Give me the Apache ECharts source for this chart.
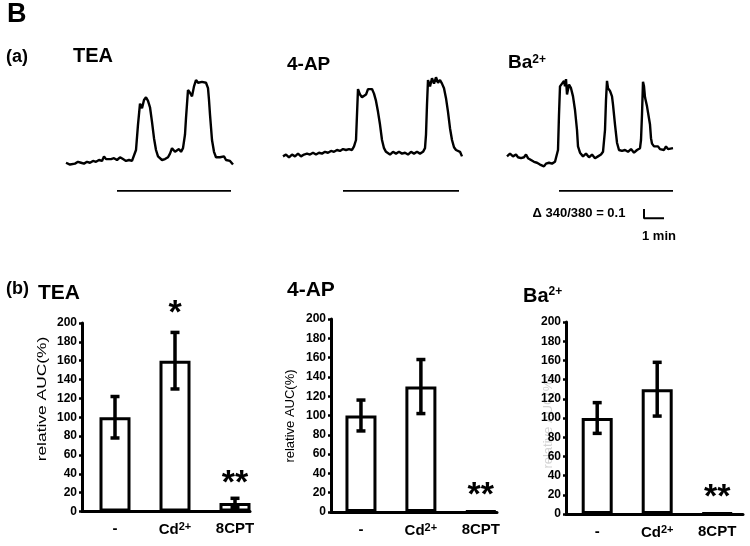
<!DOCTYPE html>
<html>
<head>
<meta charset="utf-8">
<script src="https://cdn.jsdelivr.net/npm/echarts@6.0.0/dist/echarts.min.js"></script>
<style>
html,body{margin:0;padding:0;background:#fff;}
#chart{width:750px;height:546px;}
</style>
</head>
<body>
<div id="chart"></div>
<script>
// ---------- DATA ----------
// (a) Ca2+ traces: [time (s), fura-2 ratio 340/380]
const teaTrace = [[0,0.81],[6,0.80],[12,0.79],[18,0.81],[27,0.80],[36,0.82],[45,0.81],[54,0.80],[63,0.82],[72,0.81],[81,0.83],[90,0.82],[99,0.84],[108,0.83],[114,0.88],[120,0.85],[126,0.87],[135,0.85],[144,0.86],[153,0.84],[162,0.87],[171,0.85],[180,0.83],[189,0.84],[198,0.83],[204,0.85],[210,0.95],[216,1.23],[222,1.46],[228,1.41],[234,1.50],[240,1.53],[246,1.49],[252,1.42],[258,1.26],[264,1.08],[270,0.95],[276,0.88],[282,0.86],[288,0.84],[297,0.85],[306,0.87],[312,0.91],[318,0.97],[321,0.99],[327,0.93],[333,0.95],[339,0.96],[345,0.93],[351,0.97],[357,1.12],[360,1.30],[366,1.61],[372,1.58],[378,1.54],[384,1.65],[390,1.72],[396,1.69],[402,1.71],[408,1.70],[414,1.71],[420,1.69],[426,1.63],[429,1.50],[432,1.34],[438,1.06],[444,0.93],[450,0.87],[456,0.85],[462,0.87],[468,0.86],[474,0.88],[480,0.84],[486,0.86],[492,0.83],[498,0.81],[501,0.79]];
const apTrace = [[0,0.88],[9,0.90],[18,0.87],[27,0.90],[36,0.88],[45,0.91],[54,0.88],[63,0.90],[72,0.91],[81,0.90],[90,0.92],[99,0.90],[108,0.92],[117,0.91],[126,0.93],[135,0.92],[144,0.94],[153,0.93],[162,0.95],[171,0.94],[180,0.96],[189,0.95],[198,0.96],[207,0.95],[213,0.99],[219,1.06],[222,1.34],[225,1.62],[231,1.56],[237,1.53],[243,1.54],[249,1.56],[255,1.62],[261,1.63],[267,1.62],[273,1.57],[279,1.49],[285,1.37],[291,1.23],[297,1.06],[303,0.97],[309,0.93],[315,0.91],[321,0.90],[330,0.93],[339,0.91],[348,0.93],[357,0.91],[366,0.92],[375,0.90],[384,0.93],[393,0.91],[402,0.93],[411,0.91],[420,0.93],[426,0.97],[429,1.12],[432,1.45],[435,1.72],[441,1.65],[447,1.74],[453,1.68],[459,1.75],[465,1.69],[471,1.72],[477,1.68],[483,1.63],[489,1.52],[495,1.37],[501,1.19],[507,1.06],[513,0.98],[519,0.95],[525,0.93],[531,0.93],[537,0.88]];
const baTrace = [[0,0.88],[9,0.91],[18,0.88],[27,0.90],[33,0.87],[42,0.86],[51,0.87],[57,0.90],[63,0.86],[72,0.84],[81,0.82],[90,0.81],[99,0.79],[105,0.81],[111,0.77],[117,0.80],[126,0.81],[135,0.80],[144,0.82],[150,0.83],[153,0.95],[156,1.34],[159,1.65],[165,1.68],[171,1.71],[174,1.65],[177,1.73],[180,1.56],[186,1.67],[192,1.63],[198,1.54],[204,1.39],[210,1.17],[213,0.99],[219,0.92],[228,0.88],[237,0.91],[246,0.87],[255,0.90],[264,0.86],[273,0.88],[282,0.90],[288,0.93],[294,1.17],[297,1.50],[300,1.71],[303,1.63],[309,1.60],[315,1.54],[318,1.45],[324,1.23],[330,1.03],[336,0.95],[345,0.94],[354,0.95],[363,0.93],[372,0.96],[381,0.92],[390,0.95],[399,0.97],[402,1.06],[405,1.34],[408,1.70],[411,1.65],[414,1.53],[420,1.43],[423,1.41],[429,1.23],[432,1.08],[435,1.02],[441,0.99],[447,0.97],[453,0.99],[459,0.96],[465,0.98],[471,0.95],[477,0.99],[483,0.96],[489,0.98],[498,0.97]];
// drug application periods (s)
const teaDrug = [153, 495];
const apDrug = [180, 528];
const baDrug = [156, 498];
// scale bar: 1 min, delta ratio 0.1
const scaleStart = [411, 0.2];
const scaleTime = 60;
const scaleRatio = 0.1;

// (b) relative AUC (%)
const categories = ['-', 'Cd2+', '8CPT'];
const teaAUC = [100, 160, 9];
const teaErr = [22, 30, 5];
const teaSig = ['', '*', '**'];
const apAUC = [100, 130, 1];
const apErr = [16, 28, 0];
const apSig = ['', '', '**'];
const baAUC = [100, 130, 1];
const baErr = [16, 28, 0];
const baSig = ['', '', '**'];
const yTicks = {min: 0, max: 200, interval: 20};

// ---------- CHART ----------
const FF = '"Liberation Sans", Arial, sans-serif';
const chart = echarts.init(document.getElementById('chart'), null, {renderer: 'canvas'});

const traceGrids = [
  {left: 66, top: 70, width: 180, height: 160},
  {left: 283, top: 70, width: 180, height: 160},
  {left: 507, top: 70, width: 180, height: 160}
];
const barGrids = [
  {left: 82, top: 323, width: 168, height: 188.5},
  {left: 331, top: 319, width: 166, height: 193},
  {left: 566, top: 322, width: 177, height: 192}
];
const barXRange = [[0.45, 3.25], [0.5, 3.27], [0.48, 3.43]];

const grids = traceGrids.concat(barGrids).map(g => Object.assign({outerBoundsMode: 'none', containLabel: false}, g));

const xAxes = [], yAxes = [];
for (let i = 0; i < 3; i++) {
  xAxes.push({gridIndex: i, type: 'value', min: 0, max: 540, show: false});
  yAxes.push({gridIndex: i, type: 'value', min: 0.07, max: 1.83, show: false});
}
for (let k = 0; k < 3; k++) {
  xAxes.push({
    gridIndex: 3 + k, type: 'value', min: barXRange[k][0], max: barXRange[k][1],
    axisLine: {show: true, onZero: false, lineStyle: {color: '#000', width: 3}},
    axisTick: {show: false},
    splitLine: {show: false},
    axisLabel: {
      customValues: [1, 2, 3],
      formatter: v => {
        const s = categories[Math.round(v) - 1] || '';
        return s.replace('2+', '{sup|2+}');
      },
      margin: 10, color: '#000', fontWeight: 'bold', fontSize: 15, fontFamily: FF,
      rich: {sup: {fontSize: 11, fontWeight: 'bold', color: '#000', fontFamily: FF, verticalAlign: 'top', padding: [0, 0, 6, 0]}}
    }
  });
  yAxes.push({
    gridIndex: 3 + k, type: 'value', min: yTicks.min, max: yTicks.max, interval: yTicks.interval,
    axisLine: {show: true, onZero: false, lineStyle: {color: '#000', width: 3}},
    axisTick: {show: true, length: 3, lineStyle: {color: '#000', width: 2.5}},
    splitLine: {show: false},
    axisLabel: {color: '#000', fontWeight: 'bold', fontSize: 12, fontFamily: FF, margin: 5}
  });
}

const series = [];
const traces = [teaTrace, apTrace, baTrace];
const drugs = [teaDrug, apDrug, baDrug];
const DRUG_LEVEL = 0.5;
traces.forEach((tr, i) => {
  series.push({type: 'line', xAxisIndex: i, yAxisIndex: i, data: tr, symbol: 'none', silent: true,
    lineStyle: {color: '#000', width: 2.4}, z: 3});
  series.push({type: 'line', xAxisIndex: i, yAxisIndex: i, symbol: 'none', silent: true,
    data: [[drugs[i][0], DRUG_LEVEL], [drugs[i][1], DRUG_LEVEL]],
    lineStyle: {color: '#000', width: 1.6}});
});
series.push({type: 'line', xAxisIndex: 2, yAxisIndex: 2, symbol: 'none', silent: true,
  data: [[scaleStart[0], scaleStart[1] + scaleRatio], [scaleStart[0], scaleStart[1]], [scaleStart[0] + scaleTime, scaleStart[1]]],
  lineStyle: {color: '#000', width: 2}});

const aucs = [teaAUC, apAUC, baAUC];
const errs = [teaErr, apErr, baErr];
const sigs = [teaSig, apSig, baSig];
aucs.forEach((vals, k) => {
  series.push({type: 'bar', xAxisIndex: 3 + k, yAxisIndex: 3 + k, barWidth: 31, silent: true,
    data: vals.map((v, i) => [i + 1, v]),
    itemStyle: {color: '#fff', borderColor: '#000', borderWidth: 3}});
  series.push({type: 'custom', xAxisIndex: 3 + k, yAxisIndex: 3 + k, clip: false, silent: true, z: 5,
    encode: {x: 0, y: 1},
    data: vals.map((v, i) => [i + 1, v, errs[k][i]]),
    renderItem: (params, api) => {
      const x = api.value(0), v = api.value(1), e = api.value(2);
      const children = [];
      const top = api.coord([x, v + e]);
      const bot = api.coord([x, v - e]);
      const st = {stroke: '#000', lineWidth: 3.5};
      if (e > 0) {
        children.push({type: 'line', shape: {x1: top[0], y1: top[1], x2: bot[0], y2: bot[1]}, style: st});
        children.push({type: 'line', shape: {x1: top[0] - 4.5, y1: top[1], x2: top[0] + 4.5, y2: top[1]}, style: st});
        children.push({type: 'line', shape: {x1: bot[0] - 4.5, y1: bot[1], x2: bot[0] + 4.5, y2: bot[1]}, style: st});
      }
      const s = sigs[k][params.dataIndex];
      if (s) {
        const off = s.length === 1 ? 19 : 15;
        children.push({type: 'text', x: top[0], y: top[1] - off,
          style: {text: s, fill: '#000', font: 'bold 34px ' + FF, align: 'center', verticalAlign: 'middle', textAlign: 'center', textVerticalAlign: 'middle'}});
      }
      return {type: 'group', children};
    }});
});

function txt(text, x, y, size, opts) {
  opts = opts || {};
  return Object.assign({
    type: 'text', x: x, y: y, silent: true,
    style: {
      text: text, fill: opts.fill || '#000',
      font: (opts.weight || 'bold') + ' ' + size + 'px ' + FF,
      align: opts.align || 'left', verticalAlign: 'middle',
      textAlign: opts.align || 'left', textVerticalAlign: 'middle',
      rich: {s: {fontSize: Math.round(size * 0.62), fontWeight: 'bold', fontFamily: FF, fill: opts.fill || '#000', verticalAlign: 'top', padding: [0, 0, Math.round(size * 0.35), 0]}}
    }
  }, opts.extra || {});
}

const graphics = [
  txt('B', 7, 15, 27),
  txt('(a)', 6, 57, 18),
  txt('TEA', 73, 56, 20),
  txt('4-AP', 287, 65, 19),
  txt('Ba{s|2+}', 508, 63, 19),
  txt('Δ 340/380 = 0.1', 579, 213, 13, {align: 'center'}),
  txt('1 min', 659, 236, 13, {align: 'center'}),
  txt('(b)', 6, 289, 18),
  txt('TEA', 38, 293, 21),
  txt('4-AP', 287, 290, 21),
  txt('Ba{s|2+}', 523, 296, 20),
  txt('relative AUC(%)', 43, 399, 12, {weight: 'normal', align: 'center', extra: {rotation: Math.PI / 2, scaleX: 1.45}}),
  txt('relative AUC(%)', 290, 416, 13, {weight: 'normal', align: 'center', extra: {rotation: Math.PI / 2}}),
  txt('relative AUC(%)', 548, 422, 13, {weight: 'normal', align: 'center', fill: '#d4d4d4', extra: {rotation: Math.PI / 2}})
];

chart.setOption({
  animation: false,
  backgroundColor: '#fff',
  grid: grids,
  xAxis: xAxes,
  yAxis: yAxes,
  series: series,
  graphic: {elements: graphics}
});
</script>
</body>
</html>
